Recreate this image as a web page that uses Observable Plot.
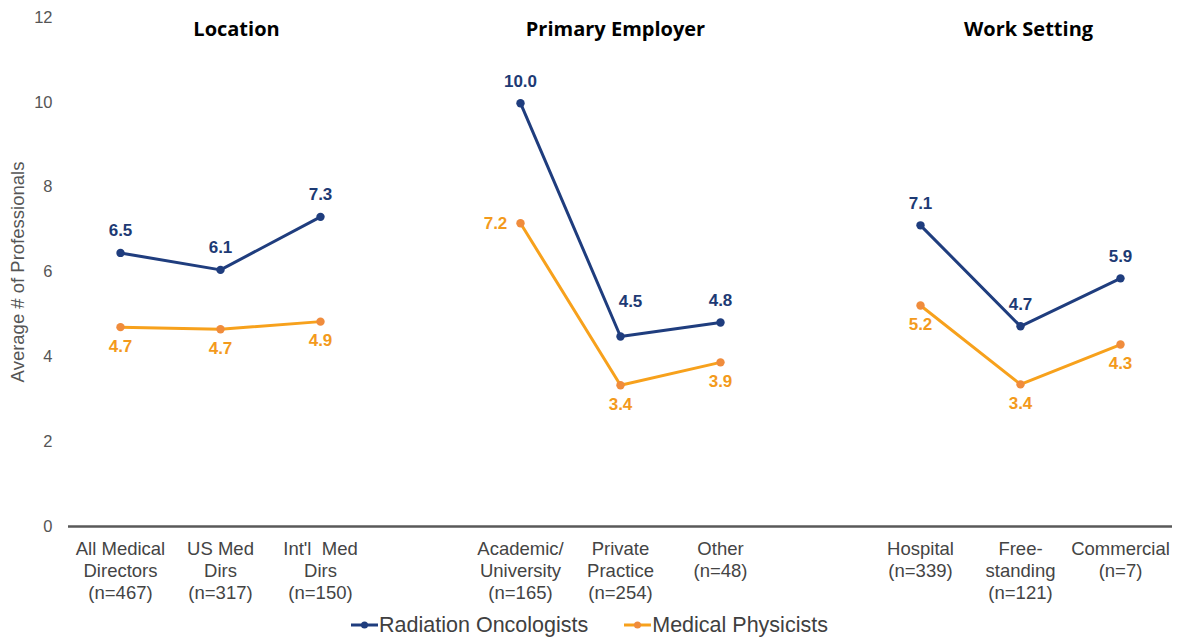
<!DOCTYPE html>
<html>
<head>
<meta charset="utf-8">
<script src="https://cdn.jsdelivr.net/npm/d3@7"></script>
<script src="https://cdn.jsdelivr.net/npm/@observablehq/plot@0.6"></script>
<style>
  body { margin: 0; background: #fff; font-family: "Liberation Sans", Arial, sans-serif; }
  #chart { width: 1179px; }
  #chart svg { display: block; }
  .legend { display: flex; justify-content: center; align-items: center; gap: 36px; height: 26px; font-size: 21.5px; color: #404040; width: 1179px; }
  .legend .item { display: flex; align-items: center; gap: 1px; }
  .legend svg { display: block; }
</style>
</head>
<body>
<div id="chart"></div>
<div class="legend" id="legend"></div>
<script>
// ---- data ----
const categories = [
  "All Medical\nDirectors\n(n=467)", "US Med\nDirs\n(n=317)", "Int'l  Med\nDirs\n(n=150)",
  "Academic/\nUniversity\n(n=165)", "Private\nPractice\n(n=254)", "Other\n(n=48)",
  "Hospital\n(n=339)", "Free-\nstanding\n(n=121)", "Commercial\n(n=7)"
];
const groups = ["Location", "Location", "Location",
  "Primary Employer", "Primary Employer", "Primary Employer",
  "Work Setting", "Work Setting", "Work Setting"];
const groupTitles = ["Location", "Primary Employer", "Work Setting"];
const seriesNames = ["Radiation Oncologists", "Medical Physicists"];
const radOnc = [6.45, 6.05, 7.3, 9.98, 4.48, 4.81, 7.1, 4.72, 5.85];
const medPhys = [4.7, 4.65, 4.83, 7.15, 3.33, 3.87, 5.21, 3.35, 4.29];
const radOncLabels = ["6.5", "6.1", "7.3", "10.0", "4.5", "4.8", "7.1", "4.7", "5.9"];
const medPhysLabels = ["4.7", "4.7", "4.9", "7.2", "3.4", "3.9", "5.2", "3.4", "4.3"];
const yTicks = [0, 2, 4, 6, 8, 10, 12];
const yLabel = "Average # of Professionals";

// ---- styling ----
const colors = { "Radiation Oncologists": "#1f3d7e", "Medical Physicists": "#f7a11c" };
const dotColors = { "Radiation Oncologists": "#1f3d7e", "Medical Physicists": "#f08c3c" };
const labelColors = { "Radiation Oncologists": "#1d3a74", "Medical Physicists": "#f39a1c" };

// x domain with empty spacer slots between groups
const xDomain = [];
categories.forEach((c, i) => {
  if (i > 0 && groups[i] !== groups[i - 1]) xDomain.push("gap" + i);
  xDomain.push(c);
});

const rows = [];
categories.forEach((c, i) => {
  rows.push({ cat: c, group: groups[i], series: seriesNames[0], value: radOnc[i], label: radOncLabels[i] });
  rows.push({ cat: c, group: groups[i], series: seriesNames[1], value: medPhys[i], label: medPhysLabels[i] });
});

// label placement (style only)
function placement(d) {
  if (d.series === seriesNames[1] && d.cat.startsWith("Academic")) return [-25, 0];
  if (d.series === seriesNames[0] && d.cat.startsWith("Private")) return [10, -35];
  if (d.series === seriesNames[0]) return [0, -22];
  return [0, 19];
}
const placeKeys = Array.from(new Set(rows.map(d => placement(d).join(","))));
const labelMarks = placeKeys.map(k => {
  const [dx, dy] = k.split(",").map(Number);
  return Plot.text(rows.filter(d => placement(d).join(",") === k), {
    x: "cat", y: "value", text: "label", dx, dy,
    fill: d => labelColors[d.series], fontSize: 17, fontWeight: "bold"
  });
});

const titleDx = { "Location": 16, "Primary Employer": -5, "Work Setting": 8 };
const titleMarks = groupTitles.map(g => {
  const idx = groups.map((x, i) => x === g ? i : -1).filter(i => i >= 0);
  return Plot.text([g], {
    x: () => categories[idx[1]], frameAnchor: "top", text: d => d, dx: titleDx[g], dy: 4,
    fontSize: 20, fontWeight: "bold", fill: "#000", fontFamily: "Open Sans"
  });
});

const fontLabel = "Liberation Sans, Arial, sans-serif";

const plot = Plot.plot({
  width: 1179,
  height: 612,
  marginLeft: 68,
  marginRight: 7,
  marginTop: 17,
  marginBottom: 86,
  style: { fontFamily: fontLabel, background: "#fff" },
  x: { type: "band", domain: xDomain, padding: 0, label: null },
  y: { domain: [0, 12], label: null },
  marks: [
    Plot.axisY({
      ticks: yTicks, tickSize: 0, tickPadding: 16, fontSize: 16.5, color: "#555",
      label: null
    }),
    Plot.text([yLabel], {
      frameAnchor: "left", text: d => d, rotate: -90, dx: -50, textAnchor: "middle",
      fontSize: 18.5, fill: "#555"
    }),
    Plot.axisX({
      tickSize: 0, tickPadding: 13, fontSize: 18.5, color: "#444", lineHeight: 1.19,
      tickFormat: d => d.startsWith("gap") ? "" : d
    }),
    Plot.ruleY([0], { stroke: "#595959", strokeWidth: 2.5 }),
    Plot.line(rows, {
      x: "cat", y: "value", z: d => d.group + d.series,
      stroke: d => colors[d.series], strokeWidth: 3
    }),
    Plot.dot(rows, { x: "cat", y: "value", r: 4.2, fill: d => dotColors[d.series], stroke: "none" }),
    ...labelMarks,
    ...titleMarks
  ]
});
document.getElementById("chart").appendChild(plot);

// legend
const legend = document.getElementById("legend");
seriesNames.forEach(s => {
  const item = document.createElement("div");
  item.className = "item";
  item.innerHTML = `<svg width="27" height="10"><line x1="0" y1="5" x2="27" y2="5" stroke="${colors[s]}" stroke-width="3"/><circle cx="13.5" cy="5" r="3.5" fill="${dotColors[s]}"/></svg><span>${s}</span>`;
  legend.appendChild(item);
});
</script>
</body>
</html>
